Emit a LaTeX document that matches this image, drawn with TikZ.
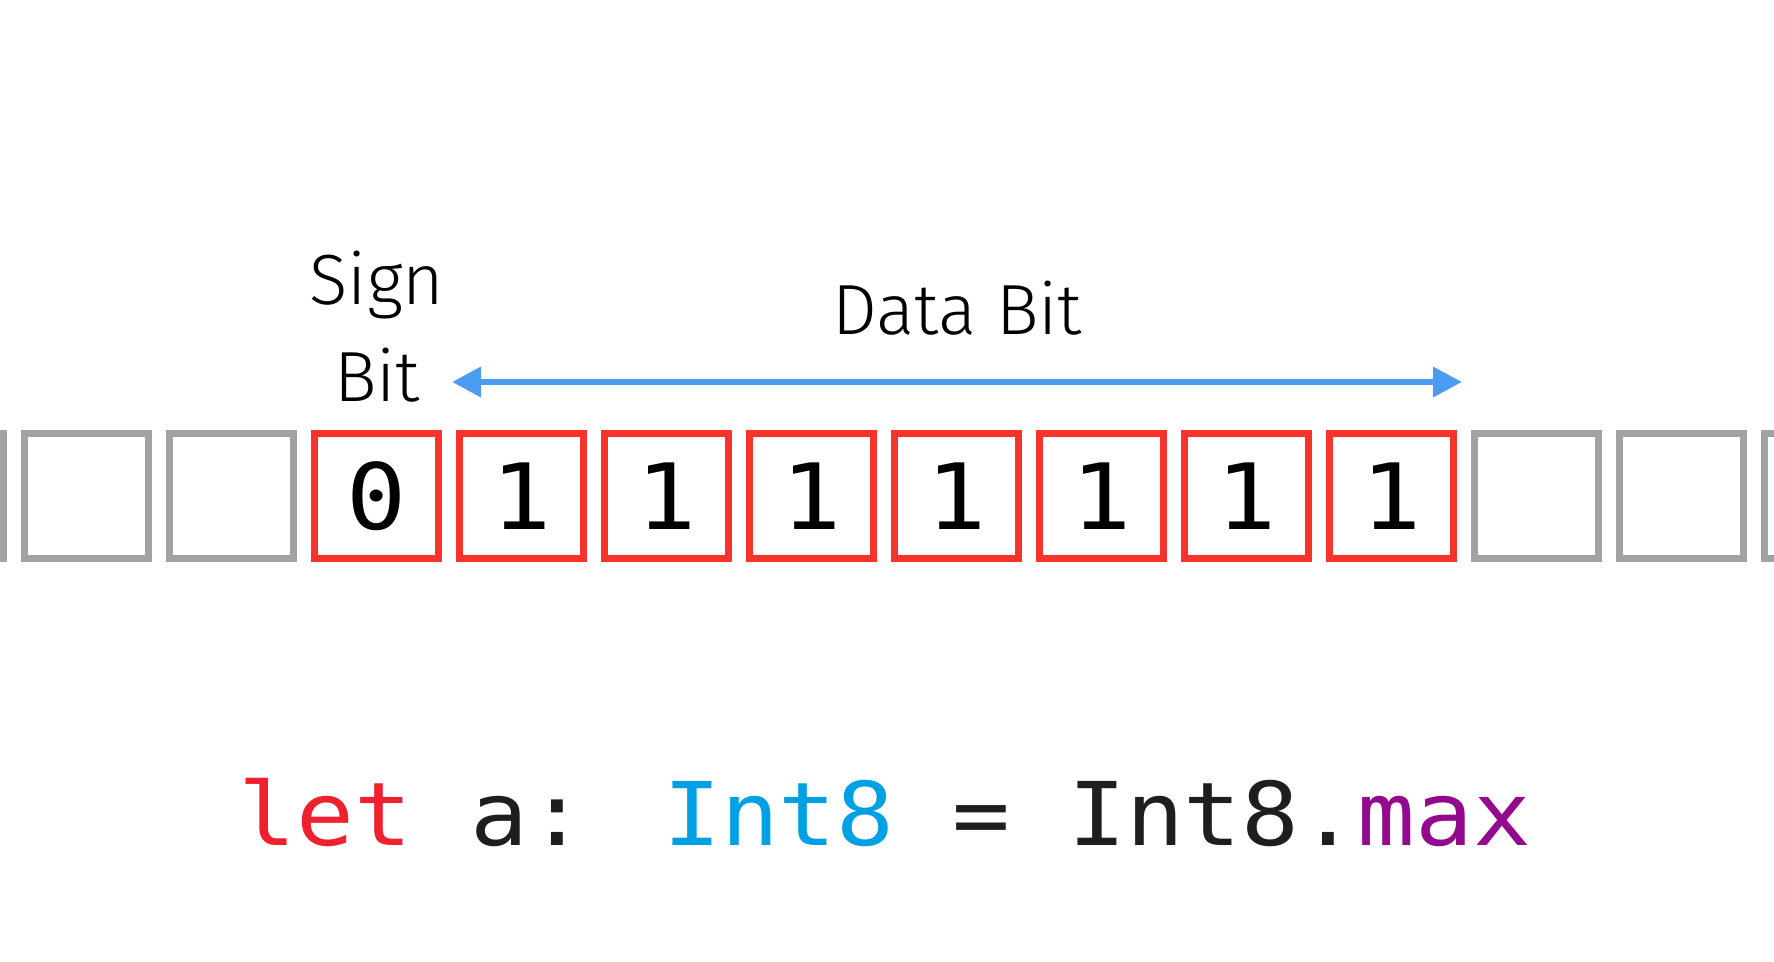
\documentclass[tikz,border=0pt]{standalone}
\usepackage{fontspec}
\usepackage{xcolor}
\usetikzlibrary{positioning,arrows.meta}
\newfontfamily\labelfont{Fira Sans Light}
\newfontfamily\codefont{DejaVu Sans Mono}[FakeStretch=1.093]
\definecolor{bitred}{HTML}{F8332C}
\definecolor{bitgray}{HTML}{A0A3A2}
\definecolor{arrowblue}{HTML}{4A9DF0}
\definecolor{kwred}{HTML}{F0212F}
\definecolor{typeblue}{HTML}{00A0E4}
\definecolor{propviolet}{HTML}{930A8F}
\definecolor{codeblack}{HTML}{1E1E1E}
\tikzset{
  bitbox/.style={draw=bitred, line width=0.07cm, minimum size=1.24cm, inner sep=0pt,
    font=\codefont\fontsize{26pt}{26pt}\selectfont},
  emptybox/.style={draw=bitgray, line width=0.07cm, minimum size=1.24cm, inner sep=0pt},
  bitlabel/.style={font=\labelfont\fontsize{20.2pt}{27.6pt}\selectfont, align=center, inner sep=0pt},
  codeline/.style={font=\codefont\fontsize{25pt}{25pt}\selectfont, text=codeblack, inner sep=0pt},
  databar/.style={draw=arrowblue, line width=0.065cm,
    {Triangle[length=0.29cm,width=0.29cm]}-{Triangle[length=0.29cm,width=0.29cm]}}
}

\begin{document}
\begin{tikzpicture}[x=0.01cm, y=-0.01cm]
    \useasboundingbox (0,0) rectangle (1774,962);
    \clip (0,0) rectangle (1774,962);

    % Unused cells, left
    \node[emptybox] (e1) at (-58.5,496) {};
    \node[emptybox] (e2) at (86.5,496) {};
    \node[emptybox] (e3) at (231.5,496) {};

    % Sign bit
    \node[bitbox] (b0) at (376.5,496) {0};
    % Data bits
    \node[bitbox] (b1) at (521.5,496) {1};
    \node[bitbox] (b2) at (666.5,496) {1};
    \node[bitbox] (b3) at (811.5,496) {1};
    \node[bitbox] (b4) at (956.5,496) {1};
    \node[bitbox] (b5) at (1101.5,496) {1};
    \node[bitbox] (b6) at (1246.5,496) {1};
    \node[bitbox] (b7) at (1391.5,496) {1};

    % Unused cells, right
    \node[emptybox] (e4) at (1536.5,496) {};
    \node[emptybox] (e5) at (1681.5,496) {};
    \node[emptybox] (e6) at (1826.5,496) {};

    % Labels
    \node[bitlabel, anchor=base] (sign) at (377,402) {Sign\\Bit};
    \node[bitlabel, anchor=base] (data) at (957,335) {Data Bit};

    % Data span
    \coordinate (dataL) at (452,382);
    \coordinate (dataR) at (1462,382);
    \draw[databar] (dataL) -- (dataR);

    % Swift line
    \node[codeline, anchor=base] (code) at (885,845)
        {\textcolor{kwred}{let} a: \textcolor{typeblue}{Int8} = Int8.\textcolor{propviolet}{max}};
\end{tikzpicture}
\end{document}
